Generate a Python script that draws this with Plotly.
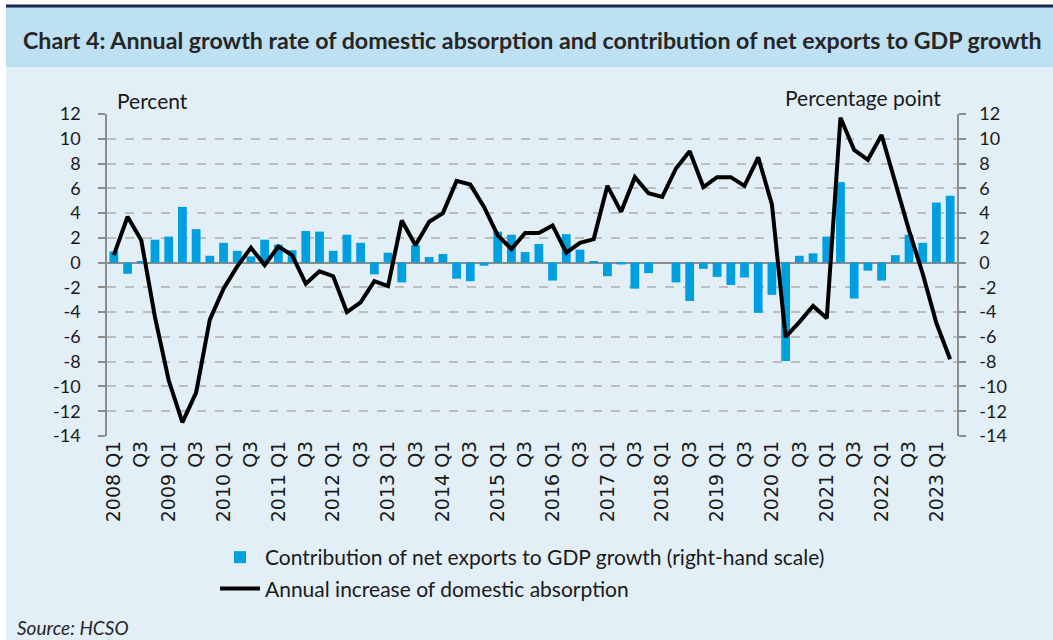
import plotly.graph_objects as go

years = list(range(2008, 2024))
quarters = [f"{y} Q{q}" for y in years for q in (1, 2, 3, 4)][:62]

tick_vals = quarters[::2]
tick_labels = ["2008 Q1", "Q3", "2009 Q1", "Q3", "2010 Q1", "Q3", "2011 Q1", "Q3",
               "2012 Q1", "Q3", "2013 Q1", "Q3", "2014 Q1", "Q3", "2015 Q1", "Q3",
               "2016 Q1", "Q3", "2017 Q1", "Q3", "2018 Q1", "Q3", "2019 Q1", "Q3",
               "2020 Q1", "Q3", "2021 Q1", "Q3", "2022 Q1", "Q3", "2023 Q1"]

net_exports = [0.9, -0.9, 0.1, 1.85, 2.1, 4.5, 2.7, 0.55, 1.6, 0.95,
               0.5, 1.85, 1.45, 1.0, 2.55, 2.5, 0.95, 2.25, 1.6, -0.95,
               0.8, -1.6, 1.4, 0.45, 0.7, -1.3, -1.5, -0.25, 2.5, 2.25,
               0.85, 1.5, -1.45, 2.3, 1.05, 0.1, -1.1, -0.15, -2.1, -0.85,
               0.0, -1.6, -3.1, -0.5, -1.15, -1.8, -1.2, -4.05, -2.6, -7.95,
               0.55, 0.75, 2.1, 6.5, -2.9, -0.65, -1.45, 0.6, 2.25, 1.6,
               4.85, 5.4]

domestic_absorption = [0.6, 3.7, 1.8, -4.4, -9.5, -12.9, -10.5, -4.6, -2.1, -0.3,
                       1.2, -0.2, 1.3, 0.6, -1.7, -0.7, -1.1, -4.0, -3.2, -1.5,
                       -1.9, 3.4, 1.4, 3.3, 4.0, 6.6, 6.3, 4.5, 2.2, 1.1,
                       2.4, 2.4, 3.0, 0.8, 1.6, 1.9, 6.2, 4.1, 6.9, 5.6,
                       5.3, 7.6, 9.0, 6.1, 6.9, 6.9, 6.2, 8.5, 4.7, -6.0,
                       -4.8, -3.5, -4.5, 11.7, 9.1, 8.3, 10.3, 6.4, 2.6, -0.9,
                       -4.9, -7.8]

y_range = [-14, 12]
y_ticks = [-14, -12, -10, -8, -6, -4, -2, 0, 2, 4, 6, 8, 10, 12]
y_tick_labels = ["-14", "-12", "-10", "-8", "-6", "-4", "-2", "0", "2", "4", "6", "8", "10", "12"]

# ---- layout geometry (pixels) ----
W, H = 1053, 640
L, R, T, B = 107, 957, 114, 436


def px(x):
    return (x - L) / (R - L)


def py(y):
    return (B - y) / (B - T)


BAR_COLOR = "#009FE0"
BODY_BG = "#E2EFF6"
BAND_BG = "#BDE0F2"
NAVY = "#1C2252"
AXIS_GREY = "#8C8C8C"

fig = go.Figure()

fig.add_trace(go.Bar(
    x=quarters, y=net_exports,
    name="Contribution of net exports to GDP growth (right-hand scale)",
    marker=dict(color=BAR_COLOR, line=dict(width=0)),
    yaxis="y", legendgroup="a",
))
fig.add_trace(go.Scatter(
    x=quarters, y=domestic_absorption,
    name="Annual increase of domestic absorption",
    mode="lines", line=dict(color="black", width=4),
    yaxis="y2", legendgroup="b",
))

axis_common = dict(
    range=y_range, tickmode="array", tickvals=y_ticks, ticktext=y_tick_labels,
    showline=True, linecolor=AXIS_GREY, linewidth=1.5,
    ticks="outside", ticklen=7, tickcolor=AXIS_GREY, tickwidth=1.5,
    tickfont=dict(family="Lato", size=18, color="#1a1a1a"),
    fixedrange=True,
)

fig.update_layout(
    width=W, height=H,
    margin=dict(l=L, r=W - R, t=T, b=H - B, pad=0),
    paper_bgcolor="white",
    plot_bgcolor="rgba(0,0,0,0)",
    bargap=0.36,
    showlegend=True,
    legend=dict(
        x=px(215), y=py(537), xanchor="left", yanchor="top",
        bgcolor="rgba(0,0,0,0)", font=dict(family="Lato", size=21, color="#1a1a1a"),
        traceorder="grouped", itemwidth=40, tracegroupgap=1,
    ),
    xaxis=dict(
        type="category", tickmode="array", tickvals=tick_vals, ticktext=tick_labels,
        tickangle=-90, showgrid=False, showline=False, ticks="",
        tickfont=dict(family="DejaVu Sans", size=19, color="#1a1a1a"),
        range=[-0.5, len(quarters) - 0.5], fixedrange=True,
    ),
    yaxis=dict(
        side="right", showgrid=True, gridcolor="#BDBDBD", griddash="dash", gridwidth=1.5,
        zeroline=True, zerolinecolor=AXIS_GREY, zerolinewidth=2,
        ticklabelstandoff=10,
        **axis_common,
    ),
    yaxis2=dict(
        side="left", overlaying="y", showgrid=False, zeroline=False,
        ticklabelstandoff=14,
        **axis_common,
    ),
    shapes=[
        dict(type="rect", xref="paper", yref="paper", layer="below",
             x0=px(6), x1=px(1070), y0=py(660), y1=py(67),
             fillcolor=BODY_BG, line=dict(width=0)),
        dict(type="rect", xref="paper", yref="paper", layer="below",
             x0=px(6), x1=px(1070), y0=py(67), y1=py(7),
             fillcolor=BAND_BG, line=dict(width=0)),
        dict(type="rect", xref="paper", yref="paper", layer="below",
             x0=px(6), x1=px(1070), y0=py(7.5), y1=py(4.5),
             fillcolor=NAVY, line=dict(width=0)),
    ],
    annotations=[
        dict(text="<b>Chart 4: Annual growth rate of domestic absorption and contribution of net exports to GDP growth</b>",
             xref="paper", yref="paper", x=px(21), y=py(40), xanchor="left", yanchor="middle",
             showarrow=False, font=dict(family="Lato", size=23.2, color="#262626")),
        dict(text="Percent", xref="paper", yref="paper", x=px(115), y=py(100),
             xanchor="left", yanchor="middle", showarrow=False,
             font=dict(family="Lato", size=21, color="#1a1a1a")),
        dict(text="Percentage point", xref="paper", yref="paper", x=px(943), y=py(98),
             xanchor="right", yanchor="middle", showarrow=False,
             font=dict(family="Lato", size=21, color="#1a1a1a")),
        dict(text="<i>Source: HCSO</i>", xref="paper", yref="paper", x=px(15), y=py(627),
             xanchor="left", yanchor="middle", showarrow=False,
             font=dict(family="Lato", size=19, color="#262626")),
    ],
)

fig.write_html(
    "out.html",
    config={"displayModeBar": False},
    post_script="document.body.style.margin='0';document.body.style.overflow='hidden';",
)
